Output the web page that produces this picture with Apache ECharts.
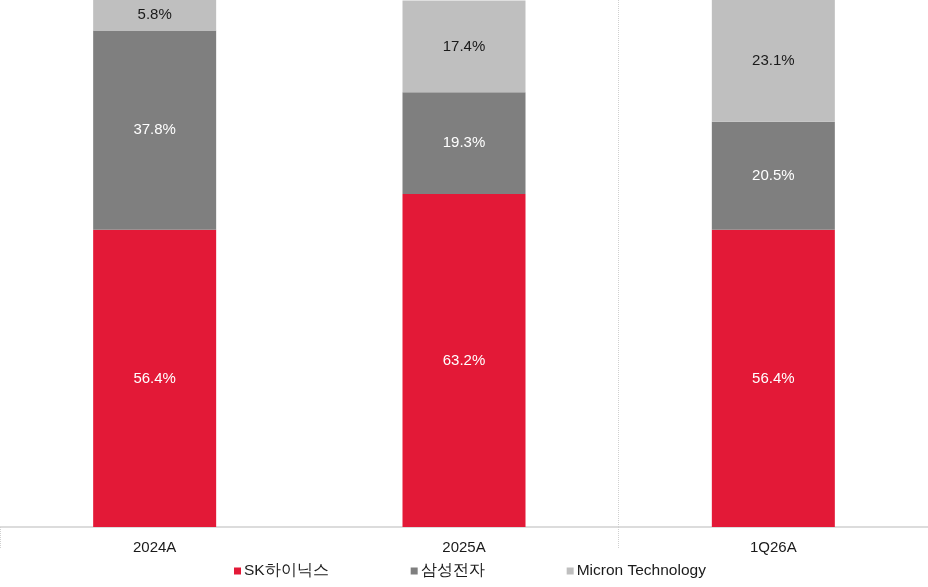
<!DOCTYPE html>
<html>
<head>
<meta charset="utf-8">
<style>
  html, body { margin: 0; padding: 0; background: #fff; }
  #chart { width: 928px; height: 587px; }
</style>
<script src="https://cdn.jsdelivr.net/npm/echarts@6/dist/echarts.min.js"></script>
</head>
<body>
<div id="chart"></div>
<script>
// 점유율 데이터 (%)
const categories = ['2024A', '2025A', '1Q26A']
const skHynix = [56.4, 63.2, 56.4]
const samsung = [37.8, 19.3, 20.5]
const micron = [5.8, 17.4, 23.1]

const seriesNames = ['SK하이닉스', '삼성전자', 'Micron Technology']
const colors = ['#E31937', '#7F7F7F', '#BFBFBF']
const labelColors = ['#ffffff', '#ffffff', '#1a1a1a']
const font = 'Liberation Sans, Arial, sans-serif'

const chart = echarts.init(document.getElementById('chart'), null, { renderer: 'canvas' })

const makeSeries = (name, data, i) => ({
  name,
  type: 'bar',
  stack: 'share',
  barWidth: 123,
  data,
  itemStyle: { color: colors[i] },
  label: {
    show: true,
    position: 'inside',
    formatter: (p) => p.value.toFixed(1) + '%',
    color: labelColors[i],
    fontFamily: font,
    fontSize: 15
  }
})

// 2025A / 1Q26A 사이 구분선만 보이도록 (경계 0, 2 -> 가장자리는 그리드 밖)
const sepInterval = (idx) => idx === 0 || idx === 2

chart.setOption({
  animation: false,
  backgroundColor: '#fff',
  grid: { left: -2, right: 0, top: 0, bottom: 60 },
  legend: {
    bottom: 3,
    left: 229,
    itemWidth: 7,
    itemHeight: 7,
    itemGap: 82,
    icon: 'rect',
    textStyle: {
      fontFamily: font,
      fontSize: 15.5,
      color: '#1a1a1a',
      padding: [0, 0, 0, -2]
    },
    data: seriesNames
  },
  xAxis: {
    type: 'category',
    data: categories,
    axisLine: { lineStyle: { color: '#D0D0D0', width: 1.5 } },
    axisTick: {
      show: true,
      length: 22,
      interval: sepInterval,
      lineStyle: { color: '#D0D0D0', type: 'dotted' }
    },
    splitLine: {
      show: true,
      interval: sepInterval,
      showMinLine: false,
      showMaxLine: false,
      lineStyle: { color: '#D0D0D0', type: 'dotted' }
    },
    axisLabel: {
      color: '#1a1a1a',
      fontFamily: font,
      fontSize: 15,
      margin: 13
    }
  },
  yAxis: {
    type: 'value',
    min: 0,
    max: 100,
    show: false,
    splitLine: { show: false }
  },
  series: [
    makeSeries(seriesNames[0], skHynix, 0),
    makeSeries(seriesNames[1], samsung, 1),
    makeSeries(seriesNames[2], micron, 2)
  ]
})
</script>
</body>
</html>
